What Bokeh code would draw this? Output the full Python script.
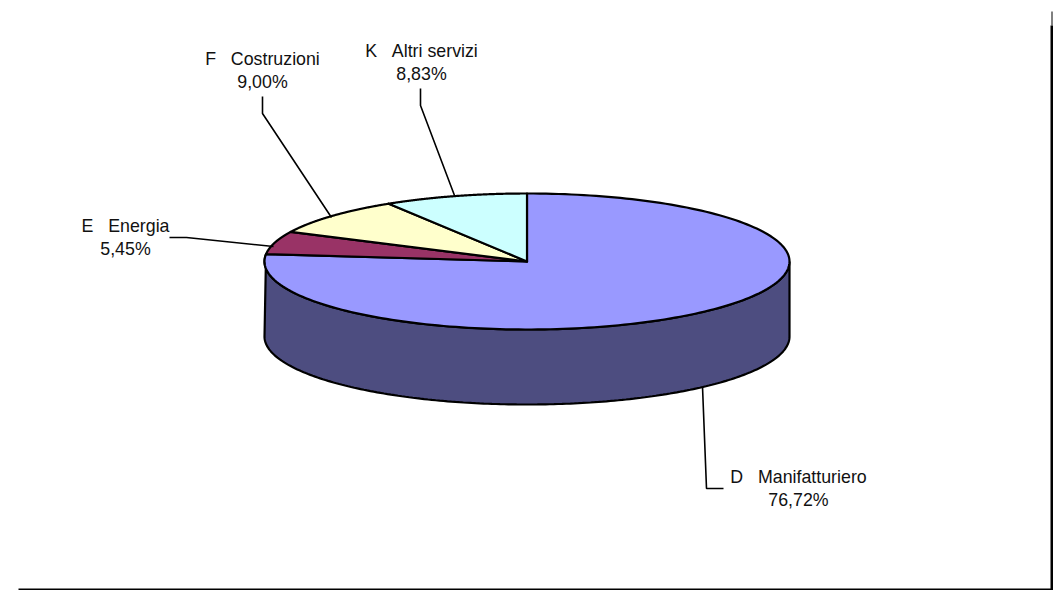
import numpy as np
from bokeh.core.properties import value
from bokeh.embed import file_html
from bokeh.models import ColumnDataSource, Range1d
from bokeh.plotting import figure
from bokeh.resources import INLINE

# --- data (clockwise from 12 o'clock)
NB = "\u00a0"
categories = [f"D{NB*3}Manifatturiero", f"E{NB*3}Energia", f"F{NB*3}Costruzioni", f"K{NB*3}Altri servizi"]
shares = [76.72, 5.45, 9.00, 8.83]
top_colors = ["#9999FF", "#993366", "#FFFFCC", "#CCFFFF"]
side_color = "#4D4D80"

# --- layout, in page pixels
W, H = 1053, 590
CX, CY, RX, RY, DEPTH = 526.5, 261, 262.5, 68, 75
label_x = [798, 125, 262, 421]
label_y = [476, 225, 58, 50]
line_gap = 23
leaders = [
    ([702, 706, 723], [386, 488, 488]),
    ([169, 186, 273], [237, 237, 246]),
    ([262, 262, 331], [96, 113, 217]),
    ([420, 420, 454], [88, 105, 195]),
]


def rim(a0, a1, n=200, dy=0.0):
    t = np.radians(np.linspace(a0, a1, n))
    return CX + RX * np.sin(t), CY - RY * np.cos(t) + dy


p = figure(width=W, height=H, output_backend="svg", toolbar_location=None,
           x_range=Range1d(0, W), y_range=Range1d(H, 0),
           min_border=0, outline_line_color=None, background_fill_color="white")
p.axis.visible = False
p.grid.visible = False

edges = np.concatenate([[0], np.cumsum(shares)]) * 3.6

# side wall of the first slice, the only one turned towards the viewer
ux, uy = rim(90, edges[1])
lx, ly = rim(270, 90, dy=DEPTH)
p.patch(np.concatenate([ux, lx]), np.concatenate([uy, ly]), fill_color=side_color,
        line_color="black", line_width=2.2)

# top face
xs, ys = [], []
for a0, a1 in zip(edges[:-1], edges[1:]):
    x, y = rim(a0, a1)
    xs.append(np.concatenate([[CX], x]))
    ys.append(np.concatenate([[CY], y]))
p.patches(xs, ys, fill_color=top_colors, line_color="black", line_width=2.2, line_join="round")

# leaders
p.multi_line([l[0] for l in leaders], [l[1] for l in leaders], line_color="black", line_width=1.6)

# labels
pct = [f"{v:.2f}".replace(".", ",") + "%" for v in shares]
src = ColumnDataSource(dict(x=label_x, y1=label_y, y2=[v + line_gap for v in label_y],
                            name=categories, pct=pct))
for col_y, col_t in (("y1", "name"), ("y2", "pct")):
    p.text(x="x", y=col_y, text=col_t, source=src, text_align="center", text_baseline="middle",
           text_font=value("Liberation Sans"), text_font_size="17.8px", text_color="#111111")

# frame remains
p.segment([18, 1051.5, 1051.5], [589, 25, 11], [W, 1051.5, 1051.5], [589, H, 25],
          line_color="black", line_width=[2, 3, 1])

open("out.html", "w").write(file_html(p, INLINE))
